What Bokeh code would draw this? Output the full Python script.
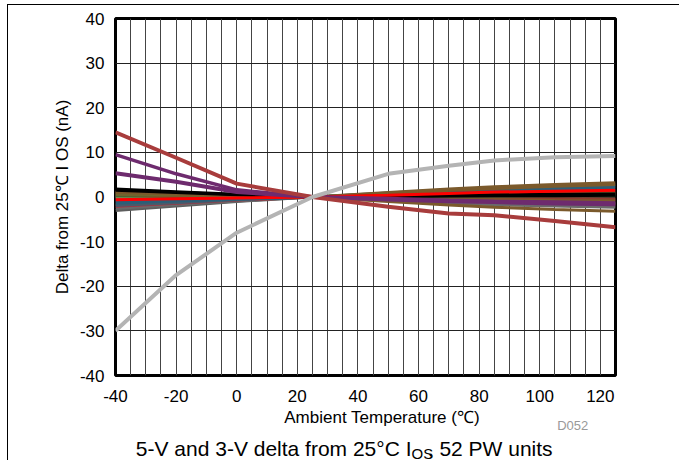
from bokeh.plotting import figure
from bokeh.models import FixedTicker, Label, Range1d, CustomJSTickFormatter
from bokeh.layouts import column
from bokeh.embed import file_html
from bokeh.resources import INLINE

# ---------------- data ----------------
temps = [-40, -20, 0, 25, 50, 70, 85, 105, 125]

x_ticks = [-40, -20, 0, 20, 40, 60, 80, 100, 120]
y_ticks = [-40, -30, -20, -10, 0, 10, 20, 30, 40]
x_grid = [-40, -35, -30, -25, -20, -15, -10, -5, 0, 5, 10, 15, 20, 25, 30, 35, 40,
          45, 50, 55, 60, 65, 70, 75, 80, 85, 90, 95, 100, 105, 110, 115, 120, 125]

# bundle of units clustered around zero
u01 = [1.8, 1.2, 0.6, 0, 0.2, 0.4, 0.5, 0.6, 0.7]
u02 = [1.5, 1.0, 0.5, 0, 0.1, 0.2, 0.3, 0.3, 0.4]
u03 = [1.2, 0.8, 0.4, 0, 1.0, 1.8, 2.3, 2.8, 3.2]
u04 = [1.0, 0.7, 0.3, 0, 0.8, 1.5, 1.9, 2.4, 2.8]
u05 = [0.7, 0.5, 0.2, 0, 0.3, 0.5, 0.6, 0.7, 0.8]
u06 = [-0.8, -0.5, -0.3, 0, 0.9, 1.6, 2.0, 2.4, 2.6]
u07 = [-1.1, -0.7, -0.4, 0, 0.7, 1.3, 1.7, 2.0, 2.3]
u08 = [-1.4, -0.9, -0.5, 0, 0.5, 1.0, 1.3, 1.6, 1.9]
u09 = [-0.6, -0.4, -0.2, 0, 0.4, 0.8, 1.1, 1.3, 1.5]
u10 = [-2.1, -1.4, -0.7, 0, -0.1, -0.2, -0.3, -0.4, -0.5]
u11 = [0.2, 0.1, 0.1, 0, 0.1, 0.2, 0.2, 0.3, 0.3]
u12 = [-0.2, -0.1, -0.1, 0, -0.4, -0.7, -0.9, -1.1, -1.2]
u13 = [0.0, 0.0, 0.0, 0, -0.5, -0.9, -1.1, -1.3, -1.5]
u14 = [-3.0, -2.0, -1.0, 0, -0.7, -1.3, -1.6, -1.9, -2.1]
u15 = [-2.6, -1.7, -0.9, 0, -0.8, -1.4, -1.7, -2.0, -2.3]
u16 = [-1.7, -1.1, -0.6, 0, -1.0, -1.8, -2.3, -2.8, -3.2]
u17 = [0.4, 0.3, 0.1, 0, -0.1, -0.2, -0.3, -0.4, -0.5]
u18 = [0.9, 0.6, 0.3, 0, -0.3, -0.5, -0.6, -0.8, -0.9]
u19 = [-1.9, -1.3, -0.6, 0, 0.2, 0.3, 0.4, 0.5, 0.6]
u20 = [0.5, 0.3, 0.2, 0, 0.4, 0.7, 0.9, 1.1, 1.2]

# outlier units
purple_a = [9.5, 5.2, 1.6, 0, -0.6, -1.0, -1.2, -1.5, -1.7]
purple_b = [5.3, 3.4, 1.1, 0, -0.4, -0.8, -1.0, -1.2, -1.4]
red_unit = [14.5, 8.8, 3.0, 0, -2.2, -3.7, -4.1, -5.4, -6.8]
gray_unit = [-30.0, -17.5, -8.0, 0, 5.2, 7.0, 8.2, 8.9, 9.2]

bundle = [
    (u14, "#5E5E5E"), (u15, "#6A6A6A"), (u16, "#7B5A2C"), (u10, "#B22D3C"),
    (u19, "#4A5A6A"), (u08, "#2C5F78"), (u07, "#2C5F78"), (u06, "#2C5F78"),
    (u12, "#6A2A6A"), (u13, "#C2A860"), (u17, "#8C3A2E"), (u18, "#7B5A2C"),
    (u11, "#2E6E3A"), (u20, "#7B5A2C"), (u05, "#6E6A30"), (u04, "#7B5A2C"),
    (u03, "#7B5A2C"), (u02, "#000000"), (u01, "#000000"), (u09, "#FF0000"),
]

FONT = "Liberation Sans"
W = 679
H1 = 408
H2 = 52

p = figure(width=W, height=H1, x_range=(-40, 125), y_range=(-40, 40),
           output_backend="svg", toolbar_location=None,
           min_border_left=115, min_border_right=64,
           min_border_top=18, min_border_bottom=33)
p.border_fill_color = None

p.outline_line_color = "black"
p.outline_line_width = 3

p.xaxis.ticker = FixedTicker(ticks=x_ticks)
p.yaxis.ticker = FixedTicker(ticks=y_ticks)
p.xaxis.formatter = CustomJSTickFormatter(code="return tick.toString();")
p.yaxis.formatter = CustomJSTickFormatter(code="return tick.toString();")
p.xgrid.ticker = FixedTicker(ticks=x_grid)
p.ygrid.ticker = FixedTicker(ticks=y_ticks)
p.xgrid.grid_line_color = "#444444"
p.ygrid.grid_line_color = "#222222"
p.xgrid.grid_line_width = 1
p.ygrid.grid_line_width = 1

for ax in (p.xaxis[0], p.yaxis[0]):
    ax.axis_line_color = None
    ax.major_tick_line_color = None
    ax.minor_tick_line_color = None
    ax.major_label_text_font = FONT
    ax.major_label_text_font_size = "17px"
    ax.major_label_text_color = "black"
    ax.axis_label_text_font = FONT
    ax.axis_label_text_font_size = "17px"
    ax.axis_label_text_font_style = "normal"
    ax.axis_label_text_color = "black"

p.yaxis.axis_label = "Delta from 25℃ I OS (nA)"
p.xaxis.major_label_standoff = 8
p.yaxis.major_label_standoff = 5
p.yaxis.axis_label_standoff = 5

for vals, col in bundle:
    p.line(temps, vals, line_color=col, line_width=3)

p.line(temps, purple_a, line_color="#6E2B6E", line_width=3.5)
p.line(temps, purple_b, line_color="#6E2B6E", line_width=4)
p.line(temps, red_unit, line_color="#A83C3C", line_width=4)
p.line(temps, gray_unit, line_color="#B4B4B4", line_width=4)

# ---- strip below the chart for the axis title, id and caption ----
t = figure(width=W, height=H2, x_range=Range1d(0, W), y_range=Range1d(0, H2),
           output_backend="svg", toolbar_location=None,
           min_border_left=0, min_border_right=0, min_border_top=0, min_border_bottom=0)
t.axis.visible = False
t.grid.visible = False
t.outline_line_color = None
t.border_fill_color = None
t.background_fill_color = None

t.add_layout(Label(x=362, y=43, text="Ambient Temperature (℃)", text_font=FONT,
                   text_font_size="17px", text_color="black", text_align="center",
                   text_baseline="middle"))
t.add_layout(Label(x=642, y=35, text="D052", text_font=FONT, text_font_size="13px",
                   text_color="#999999", text_align="right", text_baseline="middle"))
split_x = 402
t.add_layout(Label(x=split_x, y=12, text="5-V and 3-V delta from 25°C I", text_font=FONT,
                   text_font_size="21px", text_color="black", text_align="right",
                   text_baseline="middle"))
t.add_layout(Label(x=split_x, y=7.5, text="OS", text_font=FONT,
                   text_font_size="15px", text_color="black", text_align="left",
                   text_baseline="middle"))
t.add_layout(Label(x=split_x + 22, y=12, text=", 52 PW units", text_font=FONT,
                   text_font_size="21px", text_color="black", text_align="left",
                   text_baseline="middle"))

layout = column(p, t, spacing=0)
layout.styles = {"background-color": "#ffffff",
                 "box-shadow": "inset 0 4px 0 0 #fff, inset 7px 0 0 0 #fff, "
                               "inset 0 5px 0 0 #000, inset 8px 0 0 0 #000"}

open("out.html", "w").write(file_html(layout, INLINE))
